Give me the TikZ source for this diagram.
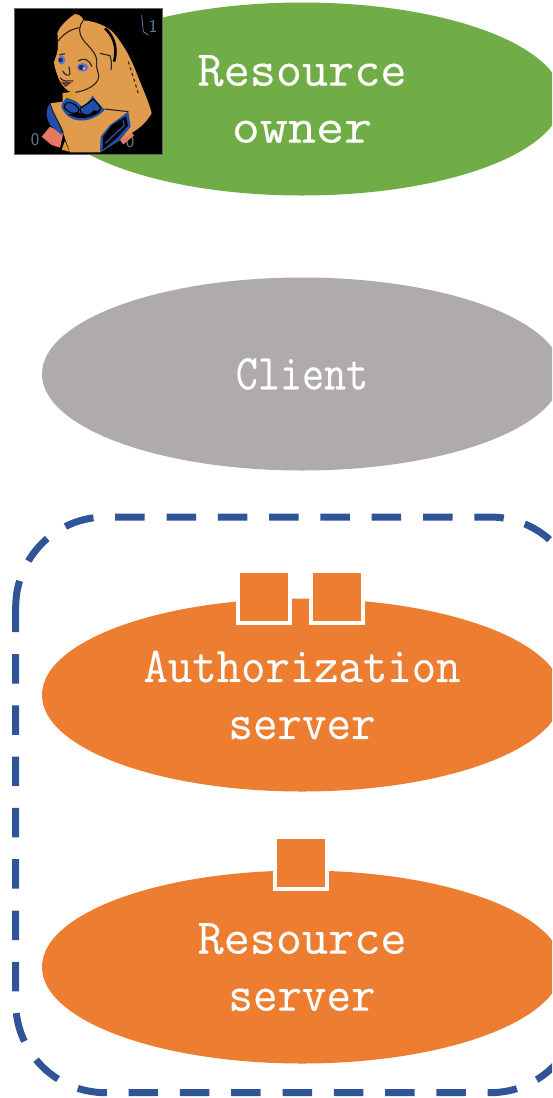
\documentclass[tikz,border=0pt]{standalone}
\usetikzlibrary{shapes.geometric}
\usepackage{graphicx}
\usepackage{fontspec}
\newfontfamily\typer[FakeBold=0.3]{Latin Modern Mono}
\newcommand{\wrd}[2]{\scalebox{#1}[1]{#2}}
\definecolor{grn}{HTML}{70AD47}
\definecolor{gry}{HTML}{AFABAB}
\definecolor{org}{HTML}{ED7D31}
\definecolor{blu}{HTML}{2F5597}
\definecolor{hair}{HTML}{E09B4C}
\definecolor{ochre}{HTML}{D9A02E}
\definecolor{dress}{HTML}{1F4FA8}
\definecolor{cuff}{HTML}{E8785F}
\definecolor{dig}{HTML}{5C7F9C}
\definecolor{iris}{HTML}{6F72C4}
\tikzset{
  blob/.style={ellipse,minimum width=520pt,minimum height=193pt,inner sep=0pt,text=white,align=center,font=\fontsize{50}{57}\typer},
  sq/.style={rectangle,fill=org,draw=white,line width=4pt,minimum width=52pt,minimum height=52pt,inner sep=0pt},
  grp/.style={draw=blu,line width=7pt,rounded corners=90pt,dash pattern=on 29.5pt off 21.8pt},
  ink/.style={draw=black!85,line width=1.1pt},
  digit/.style={text=dig,inner sep=0pt,font=\fontsize{18}{18}\selectfont\sffamily}
}
\begin{document}
\begin{tikzpicture}[x=1pt,y=-1pt]
\useasboundingbox (0,0) rectangle (552,1098);
\clip (0,0) rectangle (552,1098);
\node[blob,fill=grn] (owner) at (302,99) {\wrd{1.014}{Resource}\\\wrd{1.09}{owner}};
\node[blob,fill=gry] (client) at (302,374) {\wrd{.857}{Client}};
\node[blob,fill=org] (auth) at (302,695) {\wrd{.947}{Authorization}\\\wrd{.952}{server}};
\node[blob,fill=org] (res) at (302,967) {\wrd{1.014}{Resource}\\\wrd{.952}{server}};
\node[sq] (k1) at (264,597) {};
\node[sq] (k2) at (337,597) {};
\node[sq] (k3) at (301,863) {};
\draw[grp] (15.7,610) -- (15.7,517) -- (580,517) -- (580,1092.7) -- (15.7,1092.7) -- (15.7,610);
% Alice portrait
\node[rectangle,fill=black,draw=black!60,line width=.8pt,minimum width=147.5pt,minimum height=146pt,inner sep=0pt] (pic) at (88.5,81.5) {};
\node[digit] (d1) at (153,26) {1};
\node[digit] (d2) at (35,140) {0};
\node[digit] (d3) at (130,142) {0};
\begin{scope}[shift={(10,5)},x=.3333pt,y=-.3333pt]
 \draw[dig,line width=.8pt] (395,30) -- (400,80) -- (415,90);
 % cuffs
 \fill[cuff] (95,395) -- (120,365) -- (160,385) -- (150,428) -- (125,420) -- cycle;
 \fill[cuff] (330,405) -- (362,378) -- (372,392) -- (340,418) -- cycle;
 % hair, face and body silhouette
 \fill[hair] (195,27) .. controls (210,28) and (218,38) .. (220,46)
   .. controls (255,48) and (295,65) .. (312,85)
   .. controls (345,125) and (365,165) .. (380,205)
   .. controls (400,255) and (420,300) .. (425,325)
   .. controls (410,350) and (395,365) .. (368,382)
   -- (330,405) -- (270,442) -- (180,442) -- (160,385)
   .. controls (150,355) and (130,330) .. (120,295)
   -- (158,290) -- (158,265) -- (186,262)
   .. controls (170,258) and (158,245) .. (148,225)
   .. controls (140,205) and (132,185) .. (132,170)
   .. controls (140,150) and (148,135) .. (142,85)
   .. controls (148,65) and (172,42) .. (195,27) -- cycle;
 \fill[ochre] (158,265) -- (188,260) -- (196,290) -- (165,292) -- cycle;
 \fill[ochre] (155,434) -- (165,408) -- (178,440) -- cycle;
 % sleeves
 \fill[dress] (120,295) .. controls (105,315) and (108,340) .. (122,362) -- (158,392) .. controls (150,355) and (130,330) .. (120,295) -- cycle;
 \fill[dress] (355,320) -- (362,365) -- (330,405) -- (270,442) -- (272,395) -- (300,360) -- cycle;
 \fill[black] (348,334) -- (354,362) -- (320,400) -- (278,434) -- (280,394) -- (306,360) -- cycle;
 \draw[dress,line width=1.4pt] (340,345) -- (342,362) -- (310,392) -- (286,415);
 % collar
 \fill[dress] (170,278) .. controls (160,290) and (152,298) .. (155,308)
   .. controls (165,330) and (185,345) .. (205,346)
   .. controls (235,350) and (265,335) .. (284,315)
   .. controls (270,298) and (255,285) .. (248,272)
   .. controls (240,290) and (225,298) .. (215,304)
   -- (196,288) -- cycle;
 \fill[black] (176,328) .. controls (200,344) and (240,344) .. (270,320)
   -- (252,316) .. controls (240,332) and (220,334) .. (205,322)
   -- cycle;
 \draw[black,line width=1.1pt] (162,306) .. controls (170,285) and (185,292) .. (196,300) .. controls (212,310) and (208,325) .. (195,325) .. controls (180,325) and (170,318) .. (162,306);
 \draw[black,line width=1.1pt] (212,308) .. controls (230,300) and (245,285) .. (250,282) .. controls (262,295) and (272,305) .. (272,312) .. controls (260,325) and (240,335) .. (225,330) .. controls (212,325) and (208,315) .. (212,308);
 % lines of hair and face
 \draw[ink] (220,46) .. controls (205,65) and (205,85) .. (220,105) .. controls (235,125) and (262,145) .. (260,170) .. controls (256,190) and (268,205) .. (266,215) .. controls (265,228) and (258,232) .. (255,237);
 \draw[ink] (145,108) .. controls (160,85) and (185,72) .. (208,68);
 \draw[black,line width=2.6pt] (285,70) .. controls (308,90) and (325,125) .. (312,170);
 \draw[ink] (270,145) -- (300,152) .. controls (305,165) and (305,180) .. (303,195);
 \draw[ink,dashed] (355,170) -- (385,265);
 \draw[ink] (158,198) .. controls (165,212) and (178,215) .. (180,205) -- (177,185);
 \draw[ink] (148,150) -- (165,146);
 \draw[ink] (205,168) .. controls (220,158) and (235,160) .. (246,185);
 \draw[ink] (150,218) .. controls (165,235) and (175,225) .. (190,228);
 \draw[ink] (255,237) .. controls (240,250) and (222,258) .. (196,262);
 \draw[ink] (284,312) -- (355,320);
 \draw[ink] (120,295) .. controls (130,330) and (150,355) .. (160,385);
 % eyes and mouth
 \fill[iris] (155,165) ellipse [x radius=11,y radius=14];
 \fill[iris] (218,187) ellipse [x radius=17,y radius=13];
 \fill[dress!60!black] (152,165) circle (7);
 \fill[dress!60!black] (214,187) circle (8);
 \fill[white!60!iris] (222,190) circle (4);
 \fill[black!55!cuff] (153,230) -- (186,232) -- (166,246) -- cycle;
\end{scope}
\end{tikzpicture}
\end{document}
